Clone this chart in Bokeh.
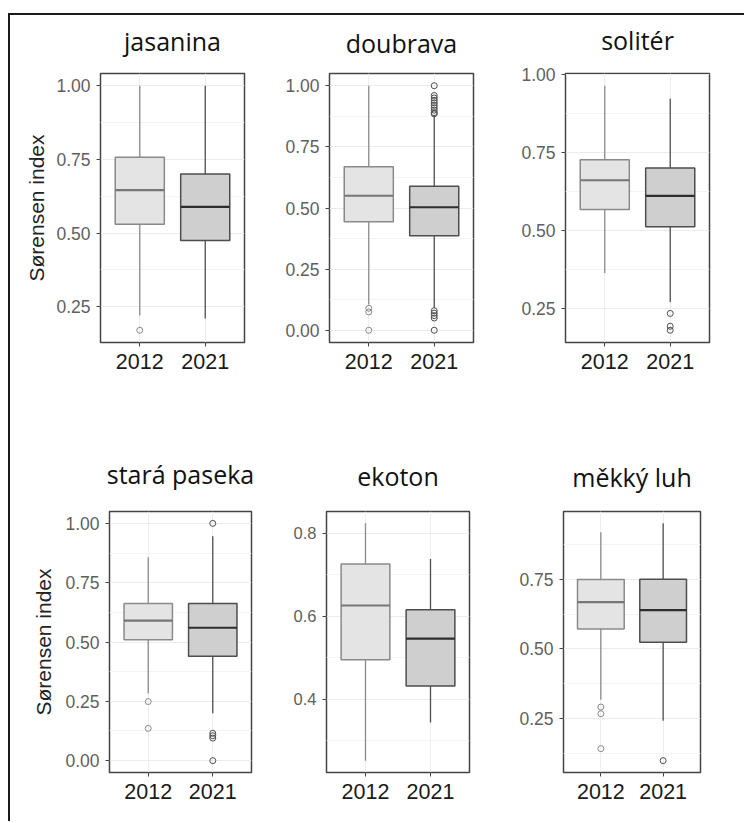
from bokeh.plotting import figure
from bokeh.layouts import row, column
from bokeh.models import (FactorRange, Range1d, FixedTicker, Div, Spacer,
                          NumeralTickFormatter, LinearAxis)
from bokeh.embed import file_html
from bokeh.resources import INLINE

years = ["2012", "2021"]

# box statistics per year: [lower whisker, Q1, median, Q3, upper whisker]
jasanina_2012 = [0.22, 0.53, 0.646, 0.757, 1.00]
jasanina_2021 = [0.21, 0.475, 0.589, 0.70, 1.00]
jasanina_out_2012 = [0.17]
jasanina_out_2021 = []

doubrava_2012 = [0.105, 0.444, 0.55, 0.669, 1.00]
doubrava_2021 = [0.092, 0.387, 0.503, 0.589, 0.88]
doubrava_out_2012 = [0.09, 0.075, 0.0]
doubrava_out_2021 = [0.08, 0.07, 0.06, 0.05, 0.0, 0.885, 0.89, 0.90, 0.91, 0.92, 0.93, 0.94, 0.95, 0.96, 1.00]

soliter_2012 = [0.364, 0.567, 0.661, 0.727, 0.964]
soliter_2021 = [0.271, 0.512, 0.611, 0.70, 0.922]
soliter_out_2012 = []
soliter_out_2021 = [0.234, 0.193, 0.180]

stara_2012 = [0.283, 0.51, 0.59, 0.662, 0.857]
stara_2021 = [0.20, 0.44, 0.56, 0.662, 0.946]
stara_out_2012 = [0.249, 0.136]
stara_out_2021 = [1.00, 0.115, 0.105, 0.095, 0.0]

ekoton_2012 = [0.252, 0.495, 0.626, 0.726, 0.824]
ekoton_2021 = [0.344, 0.432, 0.546, 0.616, 0.738]
ekoton_out_2012 = []
ekoton_out_2021 = []

mekky_2012 = [0.318, 0.572, 0.668, 0.749, 0.918]
mekky_2021 = [0.243, 0.524, 0.639, 0.75, 0.95]
mekky_out_2012 = [0.292, 0.268, 0.143]
mekky_out_2021 = [0.10]

ticks_quarter = [0.0, 0.25, 0.5, 0.75, 1.0]
minor_quarter = [0.125, 0.375, 0.625, 0.875]
ticks_ekoton = [0.4, 0.6, 0.8]
minor_ekoton = [0.3, 0.5, 0.7]

y_label = "Sørensen index"

FILL = ["#e4e4e4", "#cfcfcf"]
EDGE = ["#8a8a8a", "#4e4e4e"]
MED = ["#767676", "#2e2e2e"]


def panel(name, s12, s21, o12, o21, ticks, minor, fmt, label,
          width, height, left, right, top, bottom, title_gap,
          ytick_size="17.5px", label_standoff=6):
    stats = [s12, s21]
    outs = [o12, o21]
    lo_all = min([s[0] for s in stats] + o12 + o21)
    hi_all = max([s[4] for s in stats] + o12 + o21)
    pad = (hi_all - lo_all) * 0.05
    p = figure(x_range=FactorRange(*years, range_padding=0.1, range_padding_units="absolute"),
               y_range=Range1d(lo_all - pad, hi_all + pad),
               width=width, height=height,
               min_border_left=left, min_border_right=right,
               min_border_top=top, min_border_bottom=bottom,
               output_backend="svg", toolbar_location=None)
    p.background_fill_color = "white"
    p.border_fill_color = "white"
    p.outline_line_color = "#444444"
    p.outline_line_width = 1.5

    lows = [s[0] for s in stats]
    q1 = [s[1] for s in stats]
    med = [s[2] for s in stats]
    q3 = [s[3] for s in stats]
    highs = [s[4] for s in stats]

    p.segment(x0=years, y0=lows, x1=years, y1=q1, line_color=EDGE, line_width=1.3)
    p.segment(x0=years, y0=q3, x1=years, y1=highs, line_color=EDGE, line_width=1.3)
    p.vbar(x=years, width=0.75, bottom=q1, top=q3, fill_color=FILL,
           line_color=EDGE, line_width=1.5)
    p.vbar(x=years, width=0.75, bottom=med, top=med, fill_color=None,
           line_color=MED, line_width=2.2)
    for yr, o, col in zip(years, outs, EDGE):
        if o:
            p.scatter(x=[yr] * len(o), y=o, marker="circle", size=6,
                      fill_color=None, line_color=col, line_width=1)

    # panel title as the label of a tick-less axis above the frame
    t_axis = LinearAxis(ticker=FixedTicker(ticks=[]),
                        axis_label=name, axis_line_color=None,
                        major_tick_out=0, major_tick_in=0,
                        minor_tick_out=0, minor_tick_in=0,
                        major_label_standoff=0, axis_label_standoff=title_gap)
    t_axis.axis_label_text_font = "Open Sans"
    t_axis.axis_label_text_font_size = "25px"
    t_axis.axis_label_text_font_style = "normal"
    t_axis.axis_label_text_color = "#111111"
    p.add_layout(t_axis, "above")

    p.yaxis.ticker = FixedTicker(ticks=ticks, minor_ticks=minor)
    p.yaxis.formatter = NumeralTickFormatter(format=fmt)
    p.yaxis.major_label_text_font = "Liberation Sans"
    p.yaxis.major_label_text_font_size = ytick_size
    p.yaxis.major_label_text_color = "#5f5f5f"
    p.yaxis.major_tick_out = 4
    p.yaxis.major_tick_in = 0
    p.yaxis.minor_tick_out = 0
    p.yaxis.minor_tick_in = 0
    p.yaxis.major_tick_line_color = "#444444"
    p.yaxis.axis_line_color = None
    p.yaxis.major_label_standoff = 6
    if label:
        p.yaxis.axis_label = y_label
        p.yaxis.axis_label_text_font = "Liberation Sans"
        p.yaxis.axis_label_text_font_size = "21px"
        p.yaxis.axis_label_text_font_style = "normal"
        p.yaxis.axis_label_text_color = "#222222"
        p.yaxis.axis_label_standoff = label_standoff

    xa = p.below[0]
    xa.major_label_text_font = "Liberation Sans"
    xa.major_label_text_font_size = "21.5px"
    xa.major_label_text_color = "#1a1a1a"
    xa.major_tick_out = 4
    xa.major_tick_in = 0
    xa.major_tick_line_color = "#444444"
    xa.axis_line_color = None
    xa.major_label_standoff = 7

    p.ygrid.grid_line_color = "#ebebeb"
    p.ygrid.grid_line_width = 1
    p.ygrid.minor_grid_line_color = "#f3f3f3"
    p.ygrid.minor_grid_line_width = 1
    p.xgrid.grid_line_color = "#ededed"
    p.xgrid.grid_line_width = 1
    return p


p1 = panel("jasanina", jasanina_2012, jasanina_2021, jasanina_out_2012, jasanina_out_2021,
           ticks_quarter, minor_quarter, "0.00", True, 245, 380, 90, 11, 54, 53, 16,
           label_standoff=5)
p2 = panel("doubrava", doubrava_2012, doubrava_2021, doubrava_out_2012, doubrava_out_2021,
           ticks_quarter, minor_quarter, "0.00", False, 240, 380, 74, 22, 52, 53, 14)
p3 = panel("solitér", soliter_2012, soliter_2021, soliter_out_2012, soliter_out_2021,
           ticks_quarter, minor_quarter, "0.00", False, 241, 380, 70, 27, 58, 52, 17)
p4 = panel("stará paseka", stara_2012, stara_2021, stara_out_2012, stara_out_2021,
           ticks_quarter, minor_quarter, "0.00", True, 250, 420, 99, 9, 115, 38, 21,
           label_standoff=7)
p5 = panel("ekoton", ekoton_2012, ekoton_2021, ekoton_out_2012, ekoton_out_2021,
           ticks_ekoton, minor_ekoton, "0.0", False, 235, 420, 66, 26, 116, 39, 19,
           ytick_size="16.5px")
p6 = panel("měkký luh", mekky_2012, mekky_2021, mekky_out_2012, mekky_out_2021,
           ticks_quarter, minor_quarter, "0.00", False, 241, 420, 68, 36, 116, 43, 18)

content = column(row(p1, p2, p3, spacing=0), row(p4, p5, p6, spacing=0), spacing=0)
top_line = Div(text="", width=736, height=2, margin=(0, 0, 0, 0),
               styles={"background-color": "#1a1a1a"})
left_line = Div(text="", width=2, height=806, margin=(0, 0, 0, 0),
                styles={"background-color": "#1a1a1a"})
layout = column(Spacer(width=744, height=13),
                row(Spacer(width=8, height=2), top_line, spacing=0),
                row(Spacer(width=8, height=806), left_line, content, spacing=0),
                spacing=0)

open("out.html", "w").write(file_html(layout, INLINE))
